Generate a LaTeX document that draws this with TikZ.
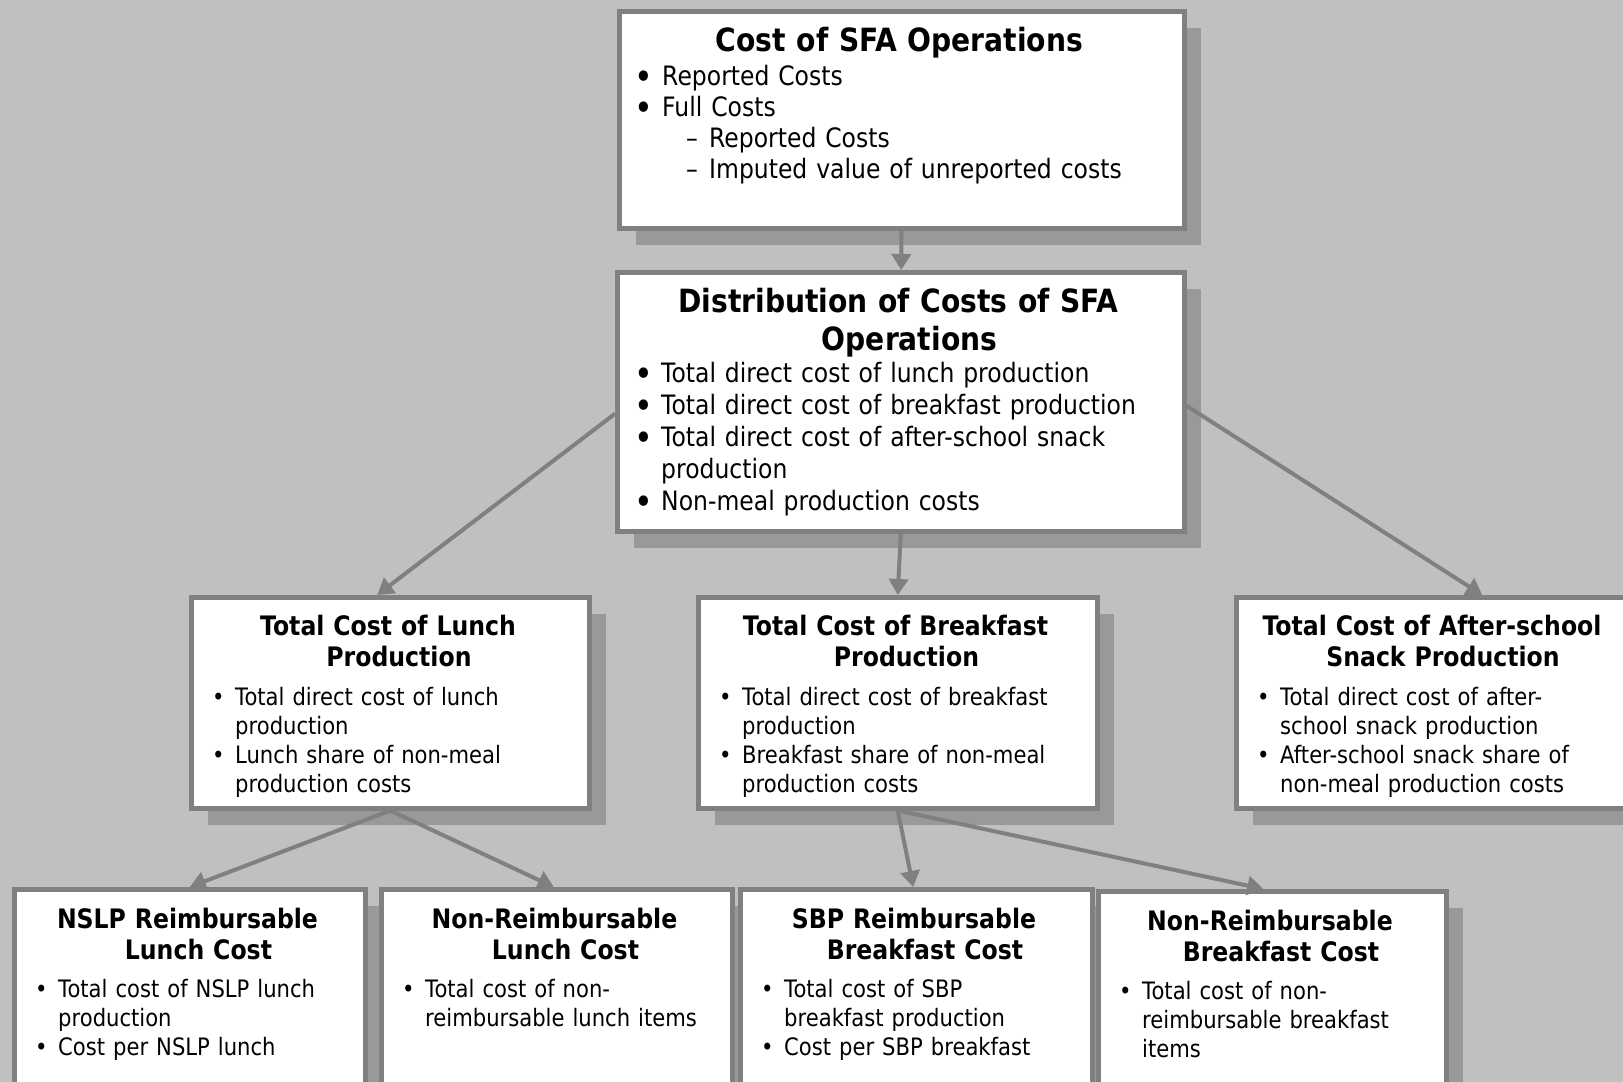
\documentclass[tikz,border=0pt]{standalone}
\usepackage{fontspec}
\setmainfont{DejaVu Sans}[FakeStretch=0.88]
\usetikzlibrary{arrows.meta,shadows}

\definecolor{bggray}{HTML}{C0C0C0}
\definecolor{framegray}{HTML}{808080}
\definecolor{shadegray}{HTML}{999999}

\newcommand{\blt}[1]{\makebox[#1pt][l]{\textbullet}}
\newcommand{\bigblt}[1]{\makebox[#1pt][l]{\hspace*{9pt}\makebox[0pt]{\raisebox{-0.18em}{\scalebox{1.35}{\textbullet}}}}}
\newcommand{\ind}[1]{\hspace*{#1pt}}

\begin{document}
\begin{tikzpicture}[x=1pt,y=-1pt,
    box/.style={draw=framegray, line width=4.5pt, fill=white, inner sep=0pt, anchor=north west,
      drop shadow={shadow xshift=17pt, shadow yshift=-17pt, fill=shadegray, opacity=1}},
    bigtitle/.style={font=\fontsize{32}{38}\selectfont\bfseries, text width=540pt, align=center, anchor=base, inner sep=0pt},
    title/.style={font=\fontsize{26.8}{31}\selectfont\bfseries, text width=390pt, align=center, anchor=base, inner sep=0pt},
    biglist/.style={font=\fontsize{26.7}{31}\selectfont, text width=530pt, align=left, anchor=base west, inner sep=0pt},
    list/.style={font=\fontsize{24}{29}\selectfont, text width=370pt, align=left, anchor=base west, inner sep=0pt},
    link/.style={draw=framegray, line width=4pt, -{Triangle[length=16pt,width=19pt]}}]

  \path[use as bounding box, fill=bggray] (0,0) rectangle (1623,1082);

  % top level
  \node[box, minimum width=565pt, minimum height=217pt] (cost) at (617,9) {};
  \node[bigtitle] (costT) at (899.5,51) {Cost of SFA Operations};
  \node[biglist] (costL) at (635,85) {\bigblt{27}Reported Costs\\
    \bigblt{27}Full Costs\\
    \ind{51}\makebox[23pt][l]{--}Reported Costs\\
    \ind{51}\makebox[23pt][l]{--}Imputed value of unreported costs};

  \node[box, minimum width=567pt, minimum height=259pt] (dist) at (615,270) {};
  \node[bigtitle] (distT) at (898.5,312) {Distribution of Costs of SFA\\\ind{22}Operations};
  \node[biglist, font=\fontsize{26.7}{32}\selectfont] (distL) at (635,382) {\bigblt{26}Total direct cost of lunch production\\
    \bigblt{26}Total direct cost of breakfast production\\
    \bigblt{26}Total direct cost of after-school snack\\
    \ind{26}production\\
    \bigblt{26}Non-meal production costs};

  % meal level
  \node[box, minimum width=398pt, minimum height=211pt] (lunch) at (189,595) {};
  \node[title] (lunchT) at (388,635) {Total Cost of Lunch\\\ind{22}Production};
  \node[list] (lunchL) at (212,705) {\blt{23}Total direct cost of lunch\\
    \ind{23}production\\
    \blt{23}Lunch share of non-meal\\
    \ind{23}production costs};

  \node[box, minimum width=399pt, minimum height=211pt] (bfast) at (696,595) {};
  \node[title] (bfastT) at (895.5,635) {Total Cost of Breakfast\\\ind{22}Production};
  \node[list] (bfastL) at (719,705) {\blt{23}Total direct cost of breakfast\\
    \ind{23}production\\
    \blt{23}Breakfast share of non-meal\\
    \ind{23}production costs};

  \node[box, minimum width=396pt, minimum height=211pt] (snack) at (1234,595) {};
  \node[title] (snackT) at (1432,635) {Total Cost of After-school\\\ind{22}Snack Production};
  \node[list] (snackL) at (1257,705) {\blt{23}Total direct cost of after-\\
    \ind{23}school snack production\\
    \blt{23}After-school snack share of\\
    \ind{23}non-meal production costs};

  % reimbursable level
  \node[box, minimum width=351pt, minimum height=220pt] (nslp) at (12,887) {};
  \node[title] (nslpT) at (187.5,928) {NSLP Reimbursable\\\ind{22}Lunch Cost};
  \node[list] (nslpL) at (35,997) {\blt{23}Total cost of NSLP lunch\\
    \ind{23}production\\
    \blt{23}Cost per NSLP lunch};

  \node[box, minimum width=351pt, minimum height=220pt] (nrlunch) at (379,887) {};
  \node[title] (nrlunchT) at (554.5,928) {Non-Reimbursable\\\ind{22}Lunch Cost};
  \node[list] (nrlunchL) at (402,997) {\blt{23}Total cost of non-\\
    \ind{23}reimbursable lunch items};

  \node[box, minimum width=352pt, minimum height=220pt] (sbp) at (738,887) {};
  \node[title] (sbpT) at (914,928) {SBP Reimbursable\\\ind{22}Breakfast Cost};
  \node[list] (sbpL) at (761,997) {\blt{23}Total cost of SBP\\
    \ind{23}breakfast production\\
    \blt{23}Cost per SBP breakfast};

  \node[box, minimum width=348pt, minimum height=220pt] (nrbfast) at (1096,889) {};
  \node[title] (nrbfastT) at (1270,930) {Non-Reimbursable\\\ind{22}Breakfast Cost};
  \node[list] (nrbfastL) at (1119,999) {\blt{23}Total cost of non-\\
    \ind{23}reimbursable breakfast\\
    \ind{23}items};

  % connectors
  \draw[link] (cost) -- (dist);
  \draw[link] ([yshift=-12pt]dist.west) -- ([xshift=-13pt]lunch.north);
  \draw[link] (dist.south) -- (bfast.north);
  \draw[link] ([yshift=-4pt]dist.east) -- ([xshift=48pt]snack.north);
  \draw[link] (lunch.south) -- (nslp.north);
  \draw[link] (lunch.south) -- ([xshift=-3pt]nrlunch.north);
  \draw[link] (bfast.south) -- ([xshift=-3pt]sbp.north);
  \draw[link] (bfast.south) -- ([xshift=-9pt]nrbfast.north);
\end{tikzpicture}
\end{document}
